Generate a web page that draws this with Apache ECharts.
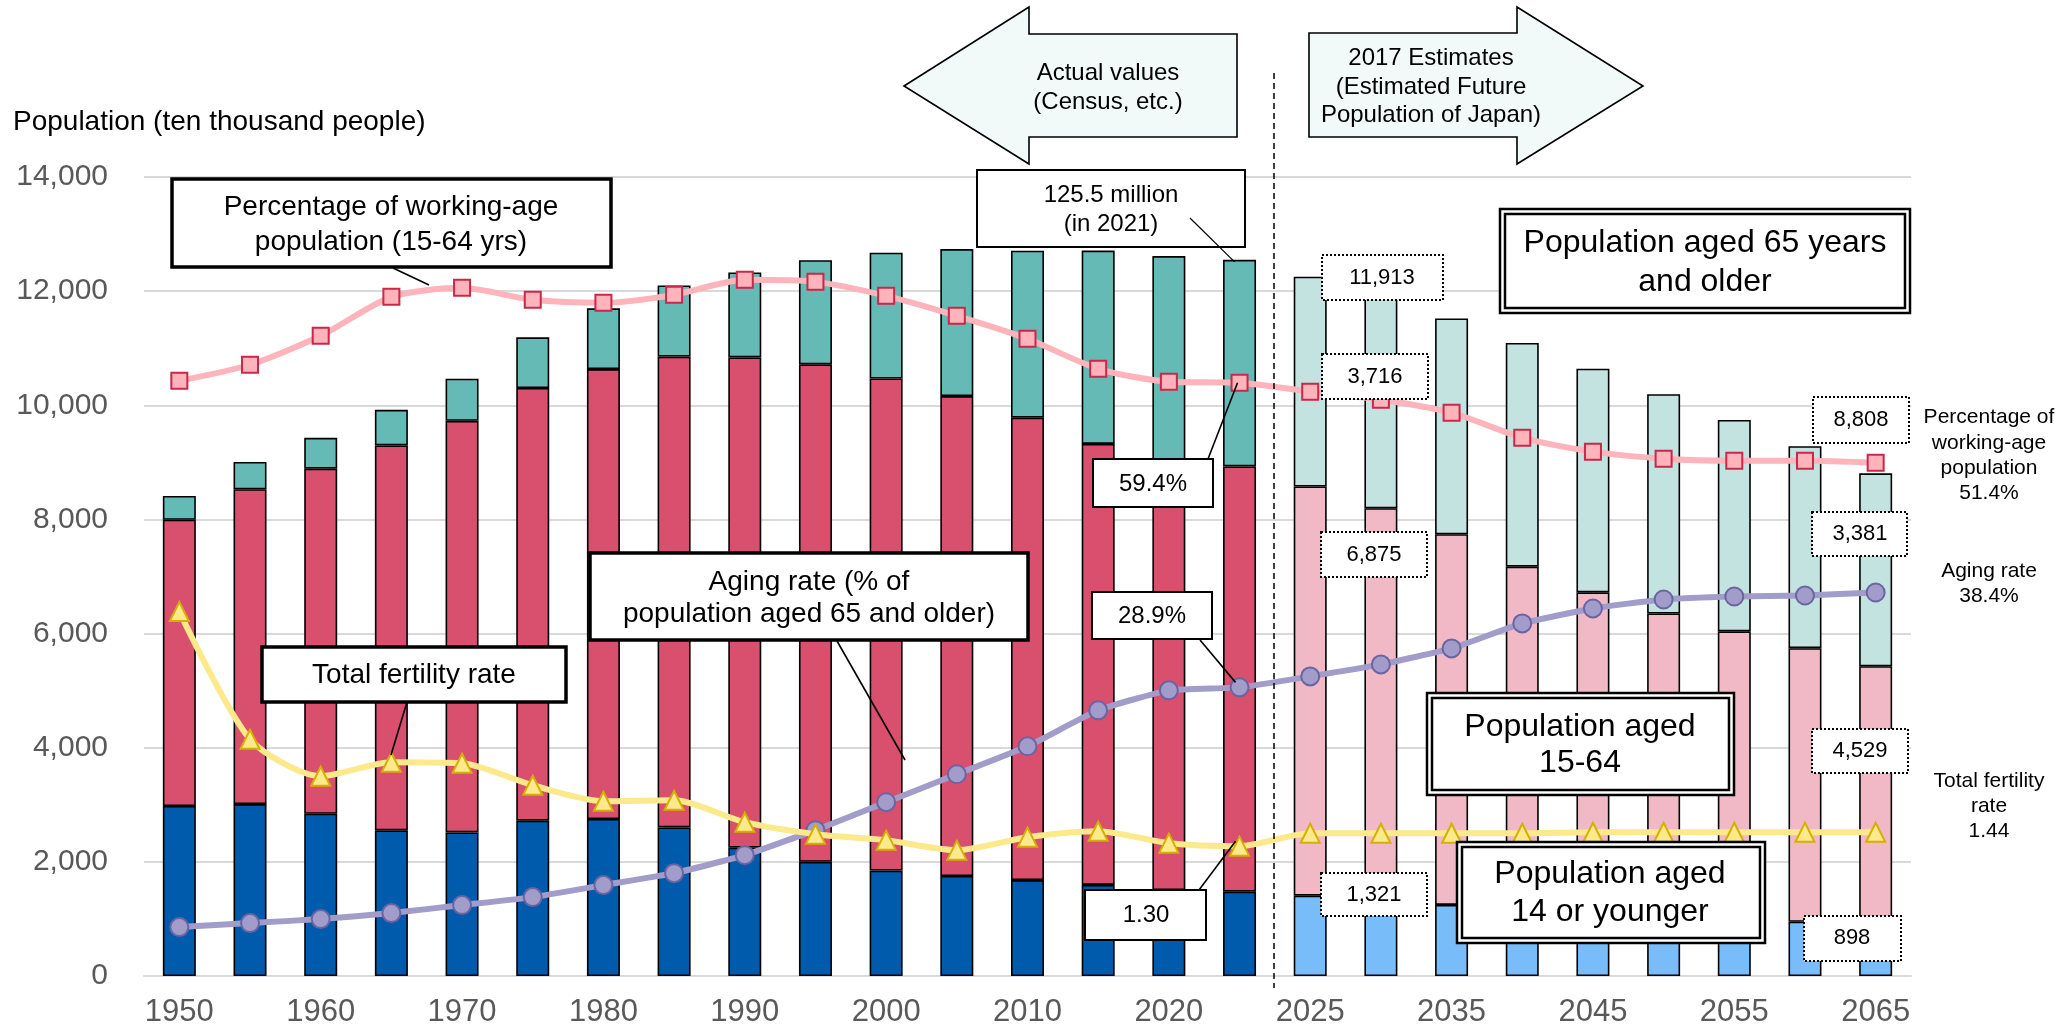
<!DOCTYPE html>
<html><head><meta charset="utf-8">
<script src="https://cdn.jsdelivr.net/npm/echarts@6/dist/echarts.min.js"></script>
<style>html,body{margin:0;padding:0;background:#fff}#c{width:2059px;height:1029px}</style>
</head><body><div id="c"></div>
<script>
// ---- data ----
const years = ['1950','1955','1960','1965','1970','1975','1980','1985','1990','1995','2000','2005','2010','2015','2020','2021',
               '2025','2030','2035','2040','2045','2050','2055','2060','2065'];
const age0to14  = [2979,3012,2843,2553,2515,2722,2751,2603,2249,2001,1847,1752,1680,1595,1503,1478,
                   1407,1321,1246,1194,1138,1077,1012,951,898];
const age15to64 = [5015,5517,6047,6744,7212,7581,7883,8251,8590,8716,8622,8409,8103,7728,7509,7450,
                   7170,6875,6494,5978,5584,5275,5028,4793,4529];
const age65plus = [417,479,540,624,739,887,1065,1247,1489,1826,2204,2576,2925,3387,3603,3621,
                   3677,3716,3782,3921,3919,3841,3704,3540,3381];
const workingAgePct = [59.6,61.2,64.1,68.0,68.9,67.7,67.4,68.2,69.7,69.5,68.1,66.1,63.8,60.8,59.5,59.4,
                       58.5,57.7,56.4,53.9,52.5,51.8,51.6,51.6,51.4];
const agingRatePct  = [4.9,5.3,5.7,6.3,7.1,7.9,9.1,10.3,12.1,14.6,17.4,20.2,23.0,26.6,28.6,28.9,
                       30.0,31.2,32.8,35.3,36.8,37.7,38.0,38.1,38.4];
const fertilityRate = [3.65,2.37,2.00,2.14,2.13,1.91,1.75,1.76,1.54,1.42,1.36,1.26,1.39,1.45,1.33,1.30,
                       1.43,1.43,1.43,1.43,1.44,1.44,1.44,1.44,1.44];
const yTicks = {min:0, max:14000, interval:2000};
const firstEstimate = '2025';

const FONT = '"Liberation Sans", Arial, sans-serif';
const EST = years.indexOf(firstEstimate);
const chart = echarts.init(document.getElementById('c'), null, {renderer:'canvas'});

function barData(vals, actual, est){
  return vals.map((v,i)=>({value:v, itemStyle:{color: i>=EST?est:actual}}));
}
const barCommon = {type:'bar', stack:'pop', barWidth:33, yAxisIndex:0,
  itemStyle:{borderColor:'#000', borderWidth:1.6}, emphasis:{disabled:true}};

chart.setOption({
  animation:false,
  grid:{left:144, right:148, top:177, bottom:53, containLabel:false},
  xAxis:{type:'category', data:years,
    axisLine:{lineStyle:{color:'#d9d9d9', width:2}}, axisTick:{show:false},
    axisLabel:{interval:1, color:'#595959', fontSize:31, fontFamily:FONT, margin:21}},
  yAxis:[
    {type:'value', min:yTicks.min, max:yTicks.max, interval:yTicks.interval,
     axisLabel:{color:'#595959', fontSize:30, fontFamily:FONT, margin:36,
       formatter:v=>v.toLocaleString('en-US')},
     splitLine:{lineStyle:{color:'#d9d9d9', width:2}}, axisLine:{show:false}, axisTick:{show:false}},
    {type:'value', min:0, max:80, show:false, splitLine:{show:false}},
    {type:'value', min:0, max:8, show:false, splitLine:{show:false}}
  ],
  series:[
    Object.assign({}, barCommon, {name:'0-14', data:barData(age0to14,'#005bac','#79bcfa')}),
    Object.assign({}, barCommon, {name:'15-64', data:barData(age15to64,'#d94f6e','#f0b9c5')}),
    Object.assign({}, barCommon, {name:'65+', data:barData(age65plus,'#66bab6','#c3e3e1')}),
    {type:'line', name:'aging', yAxisIndex:1, data:agingRatePct, smooth:0.15, symbol:'circle', symbolSize:18,
     lineStyle:{color:'#a29cca', width:6}, itemStyle:{color:'#a29cca', borderColor:'#6a64a0', borderWidth:2}, z:5},
    {type:'line', name:'tfr', yAxisIndex:2, data:fertilityRate, smooth:0.25, symbol:'triangle', symbolSize:19,
     lineStyle:{color:'#fce98c', width:6}, itemStyle:{color:'#fce98c', borderColor:'#d4b000', borderWidth:2}, z:6},
    {type:'line', name:'working', yAxisIndex:1, data:workingAgePct, smooth:0.25, symbol:'rect', symbolSize:16,
     lineStyle:{color:'#ffb3ba', width:6}, itemStyle:{color:'#ffb3bb', borderColor:'#c8284a', borderWidth:2}, z:7}
  ]
});

// ---- annotations ----
const i2021 = years.indexOf('2021');
const pBar = chart.convertToPixel({seriesIndex:0}, [i2021, age0to14[i2021]+age15to64[i2021]+age65plus[i2021]]);
const pWork = chart.convertToPixel({seriesIndex:5}, [i2021, workingAgePct[i2021]]);
const pAge = chart.convertToPixel({seriesIndex:3}, [i2021, agingRatePct[i2021]]);
const pTfr = chart.convertToPixel({seriesIndex:4}, [i2021, fertilityRate[i2021]]);

const G = [];
const Z = 100;
function txt(x,y,t,size,align){
  G.push({type:'text', z:Z+2, x:x, y:y, style:{text:t, fill:'#000', fontSize:size, fontFamily:FONT,
    align:align||'center', verticalAlign:'middle'}});
}
function box(x,y,w,h,lw,lines,cx,ys,size,dash){
  G.push({type:'rect', z:Z, shape:{x:x,y:y,width:w,height:h},
    style:{fill:'#fff', stroke:'#000', lineWidth:lw, lineDash:dash||null}});
  lines.forEach((t,i)=>txt(cx,ys[i],t,size));
}
function dbox(x,y,w,h,lines,cx,ys,size){
  G.push({type:'rect', z:Z, shape:{x:x,y:y,width:w,height:h}, style:{fill:'#fff', stroke:'#000', lineWidth:2.5}});
  G.push({type:'rect', z:Z+1, shape:{x:x+5,y:y+5,width:w-10,height:h-10}, style:{fill:'none', stroke:'#000', lineWidth:2.5}});
  lines.forEach((t,i)=>txt(cx,ys[i],t,size));
}
function lead(x1,y1,x2,y2,lw){
  G.push({type:'line', z:Z+3, shape:{x1:x1,y1:y1,x2:x2,y2:y2}, style:{stroke:'#000', lineWidth:lw||1.6}});
}

// axis title
txt(13,122,'Population (ten thousand people)',28,'left');

// arrows
G.push({type:'polygon', z:Z, shape:{points:[[904,86],[1029,7],[1029,34],[1237,34],[1237,137],[1029,137],[1029,164]]},
  style:{fill:'#f2f9f9', stroke:'#000', lineWidth:1.6}});
txt(1108,73,'Actual values',24); txt(1108,102,'(Census, etc.)',24);
G.push({type:'polygon', z:Z, shape:{points:[[1309,33],[1517,33],[1517,7],[1643,86],[1517,164],[1517,137],[1309,137]]},
  style:{fill:'#f2f9f9', stroke:'#000', lineWidth:1.6}});
txt(1431,58,'2017 Estimates',24); txt(1431,87,'(Estimated Future',24); txt(1431,115,'Population of Japan)',24);

// divider
G.push({type:'line', z:Z, shape:{x1:1274,y1:73,x2:1274,y2:988}, style:{stroke:'#000', lineWidth:1.5, lineDash:[6,4]}});

// thick boxes
box(172,179,439,88,3.5,['Percentage of working-age','population (15-64 yrs)'],391,[207,242],28);
lead(393,268,429,285);
box(262,647,304,55,3.5,['Total fertility rate'],414,[675],28);
lead(407,702,391,755);
box(590,553,438,87,3.5,['Aging rate (% of','population aged 65 and older)'],809,[582,614],28);
lead(837,641,905,760);

// thin boxes
box(977,170,268,77,2,['125.5 million','(in 2021)'],1111,[195,224],24);
lead(1190,218,pBar[0]-5,pBar[1]+2,1.2);
box(1093,459,120,48,2,['59.4%'],1153,[484],24);
lead(1208,459,pWork[0]-2,pWork[1]);
box(1092,592,120,47,2,['28.9%'],1152,[616],24);
lead(1200,640,pAge[0]-4,pAge[1]-5);
box(1085,890,121,50,2,['1.30'],1146,[915],24);
lead(1199,890,pTfr[0]-4,pTfr[1]-5);

// double boxes
dbox(1500,209,410,104,['Population aged 65 years','and older'],1705,[243,282],32);
dbox(1427,693,307,102,['Population aged','15-64'],1580,[727,763],32);
dbox(1457,842,308,101,['Population aged','14 or younger'],1610,[874,912],32);

// dotted value boxes
const dot=[2,2];
box(1322,255,121,45,2,['11,913'],1382,[278],22,dot);
box(1322,354,106,45,2,['3,716'],1375,[377],22,dot);
box(1321,532,106,45,2,['6,875'],1374,[555],22,dot);
box(1321,873,106,43,2,['1,321'],1374,[895],22,dot);
box(1813,397,96,46,2,['8,808'],1861,[420],22,dot);
box(1812,512,95,44,2,['3,381'],1860,[534],22,dot);
box(1812,729,96,44,2,['4,529'],1860,[751],22,dot);
box(1804,916,97,45,2,['898'],1852,[938],22,dot);

// right side labels
[['Percentage of',417],['working-age',443],['population',468],['51.4%',493],
 ['Aging rate',571],['38.4%',596],
 ['Total fertility',781],['rate',806],['1.44',831]].forEach(a=>txt(1989,a[1],a[0],21));

chart.setOption({graphic:{elements:G}});
</script></body></html>
